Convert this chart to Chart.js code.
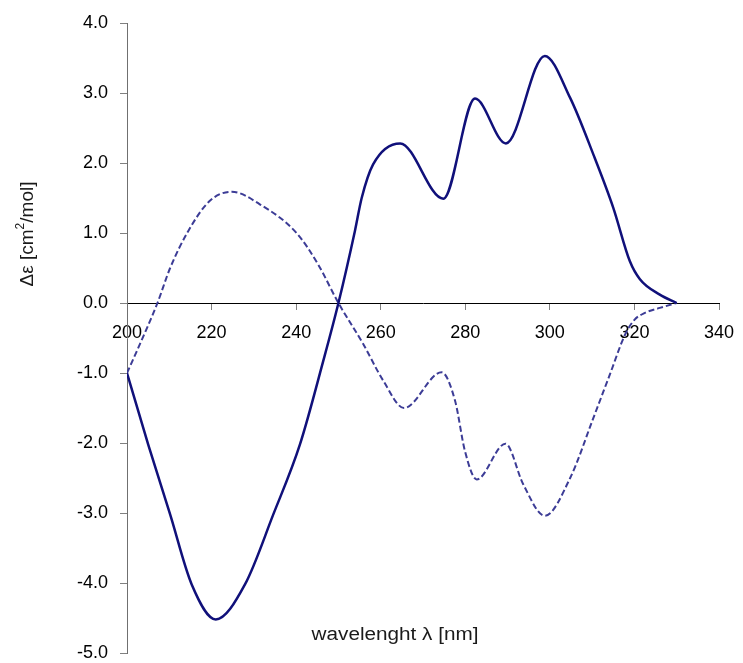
<!DOCTYPE html>
<html>
<head>
<meta charset="utf-8">
<title>CD spectrum</title>
<script src="https://cdn.jsdelivr.net/npm/chart.js@4.4.1/dist/chart.umd.min.js"></script>
<style>
  html, body { margin: 0; padding: 0; background: #fff; }
  canvas { display: block; }
</style>
</head>
<body>
<canvas id="cdChart" width="743" height="663"></canvas>
<script>
// --- Spectrum data: wavelength [nm] / delta epsilon [cm2/mol] ---
const solidWavelength = [200, 205, 210.2, 215.3, 221, 227.9, 234.6, 240.9, 246.4, 250, 253.9, 255.5, 258.2, 264.6, 274.8, 282.3, 289.6, 298.8, 304.8, 310.3, 315, 318.9, 321.3, 326, 330];
const solidDelta = [-1.0, -2.02, -3.02, -4.02, -4.52, -4.02, -3.02, -2.02, -0.83, 0, 1.03, 1.5, 1.98, 2.28, 1.49, 2.92, 2.28, 3.53, 2.93, 2.12, 1.36, 0.60, 0.34, 0.12, 0];

const dashedWavelength = [200, 202.3, 207.2, 210.2, 214.5, 219.6, 224.8, 231.4, 240.1, 245.2, 250, 255.9, 260.6, 265.5, 274.4, 277.6, 279.9, 282.7, 289.5, 293.7, 298.8, 304.8, 310.3, 314.2, 317.8, 320, 322.5, 326, 330];
const dashedDelta = [-1.0, -0.69, 0, 0.50, 1.03, 1.46, 1.59, 1.41, 1.00, 0.55, 0, -0.59, -1.11, -1.50, -0.99, -1.40, -2.11, -2.52, -2.01, -2.59, -3.04, -2.50, -1.64, -1.02, -0.45, -0.24, -0.14, -0.07, 0];

const xTickValues = [200, 220, 240, 260, 280, 300, 320, 340];
const yTickValues = [-5, -4, -3, -2, -1, 0, 1, 2, 3, 4];

const toPoints = (xs, ys) => xs.map((x, i) => ({ x: x, y: ys[i] }));

const FONT = '"Liberation Sans", Arial, sans-serif';

// keep tick labels from eating into the plot area
const noLabelPadding = (scale) => {
    scale.paddingLeft = 0;
    scale.paddingRight = 0;
    scale.paddingTop = 0;
    scale.paddingBottom = 0;
};

// axis titles: x title sits inside the plot, y title is rotated on the left
const axisTitles = {
    id: 'axisTitles',
    afterDraw(chart) {
        const ctx = chart.ctx;
        ctx.save();
        ctx.fillStyle = '#1a1a1a';
        ctx.textBaseline = 'middle';
        ctx.textAlign = 'center';
        ctx.font = '18px ' + FONT;
        ctx.translate(395, 635);
        ctx.scale(1.15, 1);
        ctx.fillText('wavelenght \u03BB [nm]', 0, 0);
        ctx.restore();

        ctx.save();
        ctx.fillStyle = '#1a1a1a';
        ctx.textBaseline = 'middle';
        ctx.textAlign = 'left';
        ctx.translate(28, 234);
        ctx.rotate(-Math.PI / 2);
        const big = '19px ' + FONT;
        const small = '12px ' + FONT;
        const a = '\u0394\u03B5 [cm', b = '2', c = '/mol]';
        ctx.font = big;
        const wa = ctx.measureText(a).width, wc = ctx.measureText(c).width;
        ctx.font = small;
        const wb = ctx.measureText(b).width;
        let x = -(wa + wb + wc) / 2;
        ctx.font = big;
        ctx.fillText(a, x, 0);
        x += wa;
        ctx.font = small;
        ctx.fillText(b, x, -7);
        x += wb;
        ctx.font = big;
        ctx.fillText(c, x, 0);
        ctx.restore();
    }
};

const ctx = document.getElementById('cdChart').getContext('2d');
new Chart(ctx, {
    type: 'line',
    data: {
        datasets: [{
            label: 'solid',
            data: toPoints(solidWavelength, solidDelta),
            borderColor: '#10107a',
            borderWidth: 2.5,
            cubicInterpolationMode: 'monotone',
            pointRadius: 0,
            fill: false
        }, {
            label: 'dashed',
            data: toPoints(dashedWavelength, dashedDelta),
            borderColor: '#3c3c96',
            borderWidth: 2,
            borderDash: [6, 3],
            cubicInterpolationMode: 'monotone',
            pointRadius: 0,
            fill: false
        }]
    },
    options: {
        responsive: false,
        animation: false,
        layout: { padding: { left: 0, top: 23, right: 24, bottom: 10 } },
        plugins: {
            legend: { display: false },
            tooltip: { enabled: false }
        },
        scales: {
            x: {
                type: 'linear',
                position: { y: 0 },
                min: 200,
                max: 340,
                afterBuildTicks: (scale) => { scale.ticks = xTickValues.map(v => ({ value: v })); },
                afterFit: (scale) => { scale.height = 0; noLabelPadding(scale); },
                grid: { drawOnChartArea: false, drawTicks: true, tickLength: 6, color: '#808080' },
                border: { display: true, color: '#000', width: 1 },
                ticks: {
                    padding: 13,
                    color: '#000',
                    font: { family: FONT, size: 18 },
                    maxRotation: 0,
                    callback: (v) => String(v)
                }
            },
            y: {
                type: 'linear',
                position: 'left',
                min: -5,
                max: 4,
                afterBuildTicks: (scale) => { scale.ticks = yTickValues.map(v => ({ value: v })); },
                afterFit: (scale) => { scale.width = 127; noLabelPadding(scale); },
                grid: { drawOnChartArea: false, drawTicks: true, tickLength: 7, color: '#808080' },
                border: { display: true, color: '#707070', width: 1 },
                ticks: {
                    padding: 12,
                    color: '#000',
                    font: { family: FONT, size: 18 },
                    callback: (v) => Number(v).toFixed(1)
                }
            }
        }
    },
    plugins: [axisTitles]
});
</script>
</body>
</html>
